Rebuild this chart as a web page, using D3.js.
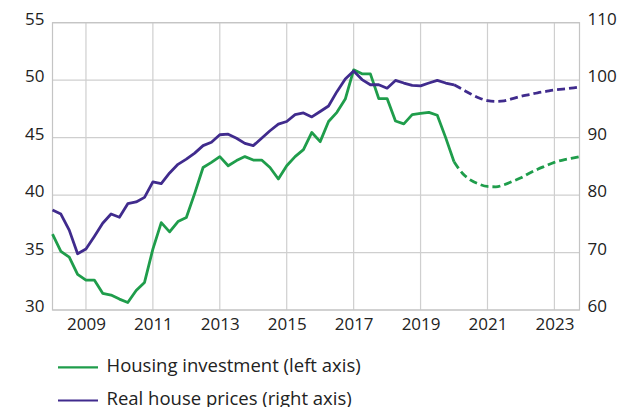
<!DOCTYPE html>
<html>
<head>
<meta charset="utf-8">
<script src="https://cdn.jsdelivr.net/npm/d3@7"></script>
<style>
  html, body { margin: 0; padding: 0; background: #fff; }
  svg { display: block; font-family: "Open Sans", sans-serif; }
  .grid line { stroke: #cfcfcf; stroke-width: 1.2; }
  .frame { fill: none; stroke: #c4c4c4; stroke-width: 1.2; }
  .tick-label { fill: #222; font-size: 17px; }
  .legend text { fill: #222; font-size: 18.5px; }
</style>
</head>
<body>
<svg width="630" height="407"></svg>
<script>
'use strict';

// quarterly data, 2008Q1 onwards
var startYear = 2008;
var lastActual = 48; // index of 2020Q1, forecast starts after

var housingInvestment = [
  36.6, 35.1, 34.6, 33.1,
  32.6, 32.6, 31.45, 31.3,
  30.95, 30.65, 31.7, 32.4,
  35.3, 37.6, 36.8, 37.7,
  38.05, 40.15, 42.4, 42.85,
  43.35, 42.55, 43.0, 43.35,
  43.05, 43.05, 42.4, 41.4,
  42.55, 43.35, 43.95, 45.45,
  44.65, 46.4, 47.2, 48.35,
  50.9, 50.55, 50.55, 48.4,
  48.4, 46.45, 46.2, 47.0,
  47.1, 47.2, 46.95, 45.0,
  42.9, 41.9, 41.3, 40.95,
  40.75, 40.72, 40.9, 41.2,
  41.5, 41.9, 42.25, 42.55,
  42.85, 43.05, 43.2, 43.35
];

var realHousePrices = [
  77.4, 76.7, 73.9, 69.8,
  70.6, 72.8, 75.1, 76.7,
  76.15, 78.5, 78.8, 79.6,
  82.3, 82.0, 83.85, 85.35,
  86.25, 87.3, 88.6, 89.2,
  90.5, 90.6, 89.9, 89.0,
  88.6, 89.9, 91.2, 92.35,
  92.8, 94.0, 94.3, 93.6,
  94.55, 95.5, 98.0, 100.2,
  101.6, 100.1, 99.2, 99.2,
  98.6, 99.95, 99.5, 99.1,
  99.0, 99.5, 99.95, 99.5,
  99.2, 98.4, 97.6, 96.9,
  96.45, 96.3, 96.4, 96.8,
  97.2, 97.5, 97.8, 98.05,
  98.3, 98.45, 98.6, 98.8
];

var xTicks = [2009, 2011, 2013, 2015, 2017, 2019, 2021, 2023];
var leftTicks = [30, 35, 40, 45, 50, 55];
var rightTicks = [60, 70, 80, 90, 100, 110];

var seriesNames = ['Housing investment (left axis)', 'Real house prices (right axis)'];
var seriesColors = ['#1f9d4b', '#402b8d'];

var svg = d3.select('svg');
var margin = {left: 52.5, right: 50.5, top: 22.7, bottom: 97};
var width = 630 - margin.left - margin.right;
var height = 407 - margin.top - margin.bottom;

var g = svg.append('g')
  .attr('transform', 'translate(' + margin.left + ',' + margin.top + ')');

var x = d3.scaleLinear().domain([2008, 2023.75]).range([0, width]);
var yLeft = d3.scaleLinear().domain([30, 55]).range([height, 0]);
var yRight = d3.scaleLinear().domain([60, 110]).range([height, 0]);

function quarterX(i) { return x(startYear + i / 4); }

// grid
var grid = g.append('g').attr('class', 'grid');
grid.selectAll('.h').data(leftTicks).enter().append('line')
  .attr('x1', 0).attr('x2', width)
  .attr('y1', function(d) { return yLeft(d); })
  .attr('y2', function(d) { return yLeft(d); });
grid.selectAll('.v').data(xTicks).enter().append('line')
  .attr('y1', 0).attr('y2', height)
  .attr('x1', function(d) { return x(d); })
  .attr('x2', function(d) { return x(d); });

g.append('rect').attr('class', 'frame')
  .attr('x', 0).attr('y', 0).attr('width', width).attr('height', height);

// axes labels
var leftAxis = d3.axisLeft(yLeft).tickValues(leftTicks).tickSize(0).tickPadding(8);
var rightAxis = d3.axisRight(yRight).tickValues(rightTicks).tickSize(0).tickPadding(8);
var bottomAxis = d3.axisBottom(x).tickValues(xTicks).tickSize(0).tickPadding(8).tickFormat(d3.format('d'));

function styleAxis(sel, dy) {
  sel.select('.domain').remove();
  sel.selectAll('text')
    .attr('class', 'tick-label')
    .style('font-size', '17px')
    .style('font-family', '"Open Sans", sans-serif')
    .attr('fill', '#222');
  if (dy !== undefined) sel.selectAll('text').attr('dy', dy);
}

g.append('g').call(leftAxis).call(styleAxis, '0.1em');
g.append('g').attr('transform', 'translate(' + width + ',0)').call(rightAxis).call(styleAxis, '0.1em');
g.append('g').attr('transform', 'translate(0,' + height + ')').call(bottomAxis).call(styleAxis);

// lines
function drawSeries(values, yScale, color) {
  var actual = values.slice(0, lastActual + 1).map(function(v, i) { return [i, v]; });
  var forecast = values.slice(lastActual).map(function(v, i) { return [i + lastActual, v]; });
  var line = d3.line()
    .x(function(d) { return quarterX(d[0]); })
    .y(function(d) { return yScale(d[1]); });
  var smooth = d3.line()
    .x(function(d) { return quarterX(d[0]); })
    .y(function(d) { return yScale(d[1]); })
    .curve(d3.curveMonotoneX);
  g.append('path').datum(actual)
    .attr('d', line)
    .attr('fill', 'none')
    .attr('stroke', color)
    .attr('stroke-width', 2.8)
    .attr('stroke-linejoin', 'round');
  g.append('path').datum(forecast)
    .attr('d', smooth)
    .attr('fill', 'none')
    .attr('stroke', color)
    .attr('stroke-width', 2.8)
    .attr('stroke-dasharray', '8,4');
}

drawSeries(housingInvestment, yLeft, seriesColors[0]);
drawSeries(realHousePrices, yRight, seriesColors[1]);

// legend
var legend = svg.append('g').attr('class', 'legend')
  .attr('transform', 'translate(58,367.3)');
var item = legend.selectAll('g').data(seriesNames).enter().append('g')
  .attr('transform', function(d, i) { return 'translate(0,' + (i * 33.2) + ')'; });
item.append('line')
  .attr('x1', 0).attr('x2', 40)
  .attr('stroke', function(d, i) { return seriesColors[i]; })
  .attr('stroke-width', 2.2);
item.append('text')
  .attr('x', 48.5)
  .attr('y', 4.2)
  .text(function(d) { return d; });
</script>
</body>
</html>
